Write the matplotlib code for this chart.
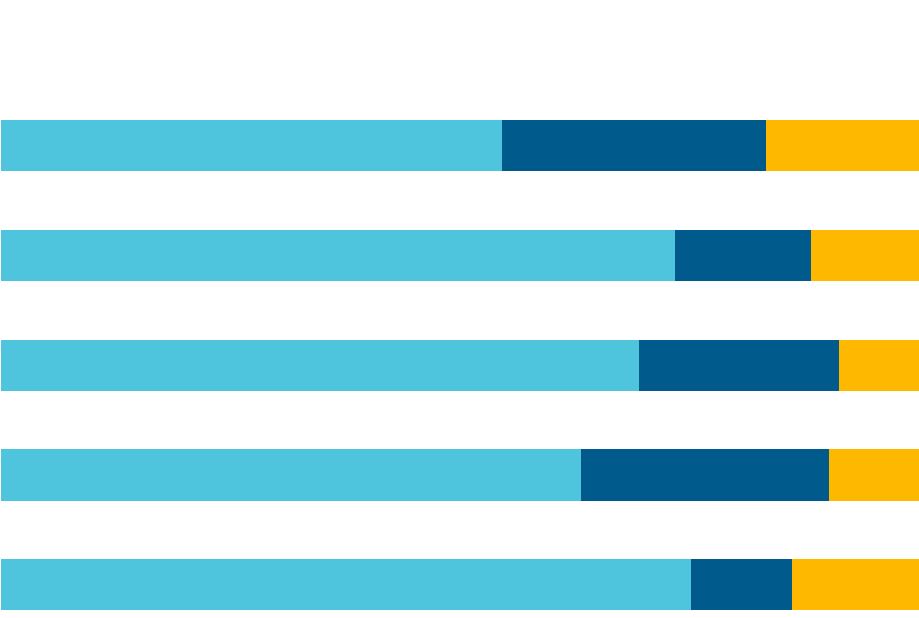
import matplotlib
matplotlib.use("Agg")
import matplotlib.pyplot as plt
import numpy as np

categories = ["A", "B", "C", "D", "E"]
series1 = [54.4, 73.3, 69.3, 63.0, 75.0]
series2 = [28.8, 14.8, 21.8, 27.0, 11.0]
series3 = [16.8, 11.9, 8.9, 10.0, 14.0]

colors = ["#4EC4DD", "#005A8C", "#FFB800"]

fig = plt.figure(figsize=(9.2, 6.18), dpi=100)
ax = fig.add_axes([0, 0, 1, 1])
y = np.arange(len(categories))
step = 109.8
c0 = 145.6
h = 51.2 / step
left = np.zeros(len(categories))
for vals, c in zip([series1, series2, series3], colors):
    ax.barh(y, vals, left=left, height=h, color=c, linewidth=0)
    left = left + np.array(vals)

ax.set_xlim(-1.3 / 9.18, 99.9)
ax.set_ylim((618 - c0) / step, -c0 / step)
ax.axis("off")
fig.savefig("out.png", dpi=100, facecolor="white")
